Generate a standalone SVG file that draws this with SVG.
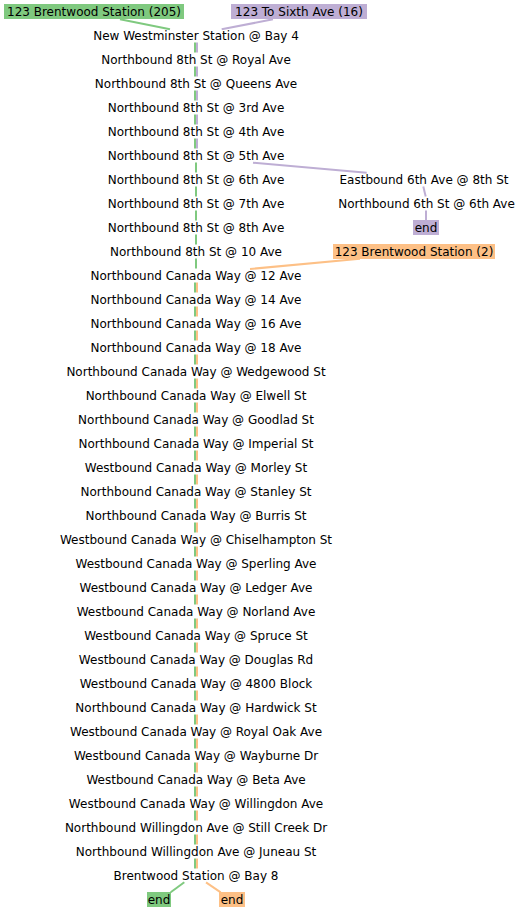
<svg xmlns="http://www.w3.org/2000/svg" width="523" height="912" viewBox="0 0 523 912">
<style>
text{font-family:"DejaVu Sans","Liberation Sans",sans-serif;font-size:12px;fill:#000;text-anchor:middle}
.g{stroke:#7fc97f;stroke-width:2;fill:none}
.p{stroke:#beaed4;stroke-width:2;fill:none}
.o{stroke:#fdc086;stroke-width:2;fill:none}
.d{stroke-dasharray:10 14}
.bg{fill:#7fc97f}.bp{fill:#beaed4}.bo{fill:#fdc086}
</style>
<rect width="523" height="912" fill="#fff"/>
<g id="connectors">
<line class="g" x1="120" y1="19.3" x2="170" y2="29.3"/>
<line class="p" x1="273" y1="19.3" x2="221.7" y2="29.3"/>
<line class="g d" x1="195" y1="42.5" x2="195" y2="148.5"/>
<line class="p d" x1="197" y1="42.5" x2="197" y2="148.5"/>
<line class="g d" x1="196" y1="162.5" x2="196" y2="268.5"/>
<line class="g d" x1="195" y1="282.5" x2="195" y2="868.5"/>
<line class="o d" x1="197" y1="282.5" x2="197" y2="868.5"/>
<line class="p" x1="253" y1="162.7" x2="366.7" y2="172.7"/>
<line class="p" x1="423.3" y1="186.5" x2="425.7" y2="196.5"/>
<line class="p" x1="426" y1="210.5" x2="426" y2="220"/>
<line class="o" x1="360" y1="258.8" x2="250" y2="269"/>
<line class="g" x1="184.3" y1="882.3" x2="170.7" y2="892.3"/>
<line class="o" x1="206" y1="882.3" x2="220.7" y2="892.3"/>
</g>
<g id="route-205"><rect class="bg" x="4" y="4" width="180" height="15"/><text x="94" y="15.5">123 Brentwood Station (205)</text></g>
<g id="route-16"><rect class="bp" x="231" y="4" width="136" height="15"/><text x="299" y="15.5">123 To Sixth Ave (16)</text></g>
<g id="route-2"><rect class="bo" x="333" y="244" width="162" height="15"/><text x="414" y="255.5">123 Brentwood Station (2)</text></g>
<g id="s01"><text x="196" y="39.5">New Westminster Station @ Bay 4</text></g>
<g id="s02"><text x="196" y="63.5">Northbound 8th St @ Royal Ave</text></g>
<g id="s03"><text x="196" y="87.5">Northbound 8th St @ Queens Ave</text></g>
<g id="s04"><text x="196" y="111.5">Northbound 8th St @ 3rd Ave</text></g>
<g id="s05"><text x="196" y="135.5">Northbound 8th St @ 4th Ave</text></g>
<g id="s06"><text x="196" y="159.5">Northbound 8th St @ 5th Ave</text></g>
<g id="s07"><text x="196" y="183.5">Northbound 8th St @ 6th Ave</text></g>
<g id="s08"><text x="196" y="207.5">Northbound 8th St @ 7th Ave</text></g>
<g id="s09"><text x="196" y="231.5">Northbound 8th St @ 8th Ave</text></g>
<g id="s10"><text x="196" y="255.5">Northbound 8th St @ 10 Ave</text></g>
<g id="s11"><text x="196" y="279.5">Northbound Canada Way @ 12 Ave</text></g>
<g id="s12"><text x="196" y="303.5">Northbound Canada Way @ 14 Ave</text></g>
<g id="s13"><text x="196" y="327.5">Northbound Canada Way @ 16 Ave</text></g>
<g id="s14"><text x="196" y="351.5">Northbound Canada Way @ 18 Ave</text></g>
<g id="s15"><text x="196" y="375.5">Northbound Canada Way @ Wedgewood St</text></g>
<g id="s16"><text x="196" y="399.5">Northbound Canada Way @ Elwell St</text></g>
<g id="s17"><text x="196" y="423.5">Northbound Canada Way @ Goodlad St</text></g>
<g id="s18"><text x="196" y="447.5">Northbound Canada Way @ Imperial St</text></g>
<g id="s19"><text x="196" y="471.5">Westbound Canada Way @ Morley St</text></g>
<g id="s20"><text x="196" y="495.5">Northbound Canada Way @ Stanley St</text></g>
<g id="s21"><text x="196" y="519.5">Northbound Canada Way @ Burris St</text></g>
<g id="s22"><text x="196" y="543.5">Westbound Canada Way @ Chiselhampton St</text></g>
<g id="s23"><text x="196" y="567.5">Westbound Canada Way @ Sperling Ave</text></g>
<g id="s24"><text x="196" y="591.5">Westbound Canada Way @ Ledger Ave</text></g>
<g id="s25"><text x="196" y="615.5">Westbound Canada Way @ Norland Ave</text></g>
<g id="s26"><text x="196" y="639.5">Westbound Canada Way @ Spruce St</text></g>
<g id="s27"><text x="196" y="663.5">Westbound Canada Way @ Douglas Rd</text></g>
<g id="s28"><text x="196" y="687.5">Westbound Canada Way @ 4800 Block</text></g>
<g id="s29"><text x="196" y="711.5">Northbound Canada Way @ Hardwick St</text></g>
<g id="s30"><text x="196" y="735.5">Westbound Canada Way @ Royal Oak Ave</text></g>
<g id="s31"><text x="196" y="759.5">Westbound Canada Way @ Wayburne Dr</text></g>
<g id="s32"><text x="196" y="783.5">Westbound Canada Way @ Beta Ave</text></g>
<g id="s33"><text x="196" y="807.5">Westbound Canada Way @ Willingdon Ave</text></g>
<g id="s34"><text x="196" y="831.5">Northbound Willingdon Ave @ Still Creek Dr</text></g>
<g id="s35"><text x="196" y="855.5">Northbound Willingdon Ave @ Juneau St</text></g>
<g id="s36"><text x="196" y="879.5">Brentwood Station @ Bay 8</text></g>
<g id="r1"><text x="424" y="183.5">Eastbound 6th Ave @ 8th St</text></g>
<g id="r2"><text x="426.5" y="207.5">Northbound 6th St @ 6th Ave</text></g>
<g id="end-16"><rect class="bp" x="413" y="220" width="26" height="15"/><text x="426" y="231.5">end</text></g>
<g id="end-205"><rect class="bg" x="147" y="892" width="24" height="15"/><text x="159" y="903.5">end</text></g>
<g id="end-2"><rect class="bo" x="219" y="892" width="26" height="15"/><text x="232" y="903.5">end</text></g>
</svg>
